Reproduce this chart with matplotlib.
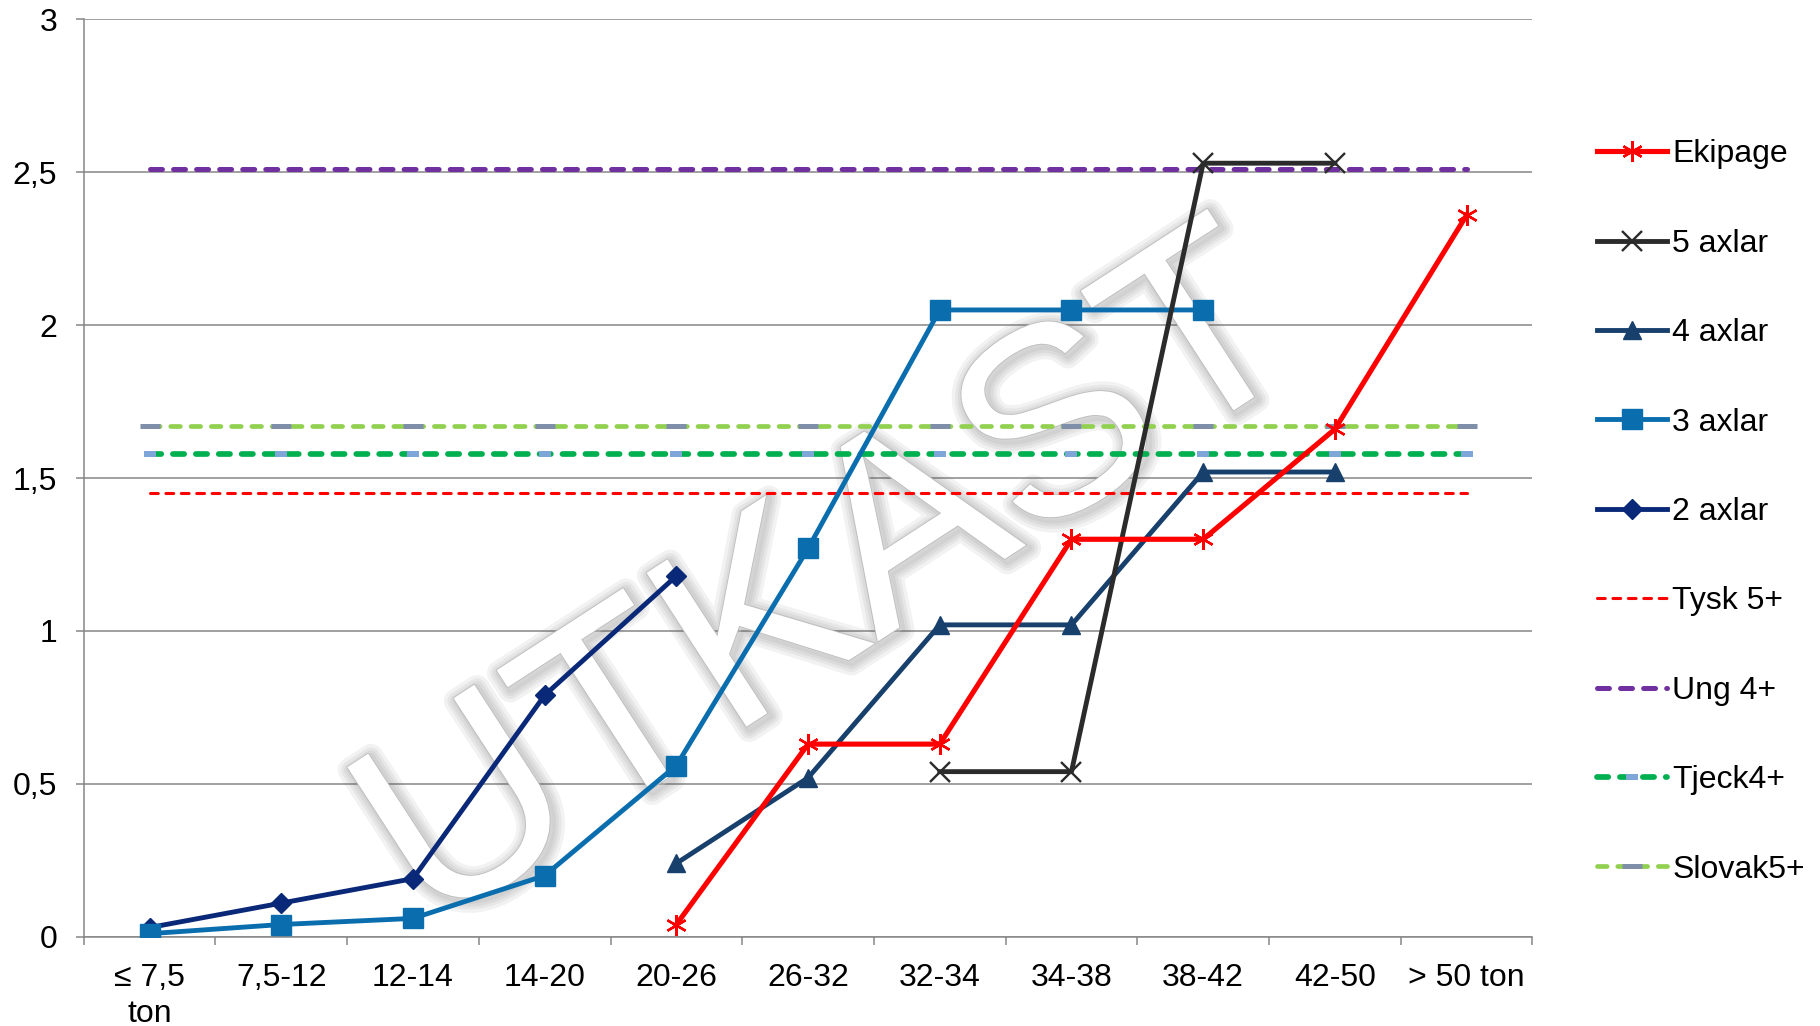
import numpy as np
import matplotlib
matplotlib.use("Agg")
import matplotlib.pyplot as plt
import matplotlib.patheffects as pe

plt.rcParams['font.family'] = ['Liberation Sans', 'DejaVu Sans']
plt.rcParams['lines.scale_dashes'] = False

categories = ["\u2264 7,5\nton", "7,5-12", "12-14", "14-20", "20-26", "26-32",
              "32-34", "34-38", "38-42", "42-50", "> 50 ton"]
nan = np.nan
ekipage = [nan, nan, nan, nan, 0.04, 0.63, 0.63, 1.30, 1.30, 1.66, 2.36]
axlar5 = [nan, nan, nan, nan, nan, nan, 0.54, 0.54, 2.53, 2.53, nan]
axlar4 = [nan, nan, nan, nan, 0.24, 0.52, 1.02, 1.02, 1.52, 1.52, nan]
axlar3 = [0.01, 0.04, 0.06, 0.20, 0.56, 1.27, 2.05, 2.05, 2.05, nan, nan]
axlar2 = [0.03, 0.11, 0.19, 0.79, 1.18, nan, nan, nan, nan, nan, nan]
tysk5 = [1.45] * 11
ung4 = [2.51] * 11
tjeck4 = [1.58] * 11
slovak5 = [1.67] * 11
yticks = [0, 0.5, 1, 1.5, 2, 2.5, 3]
ytick_labels = ["0", "0,5", "1", "1,5", "2", "2,5", "3"]

grey = '#868686'
fs = 23
fig = plt.figure(figsize=(18.2, 10.26), dpi=100)
ax = fig.add_axes([0.046, 0.087, 0.796, 0.894])
x = np.arange(len(categories))

ax.plot(x, tysk5, color='#FF0000', lw=2.2, dashes=(5.6, 5.5), dash_capstyle='round',
        label='Tysk 5+', zorder=3)
ax.plot(x, ung4, color='#7030A0', lw=3.6, dashes=(8.6, 8.0), dash_capstyle='round',
        label='Ung 4+', zorder=3)
ax.plot(x, tjeck4, color='#00B050', lw=4.1, dashes=(8.1, 8.4), dash_capstyle='round',
        marker='_', ms=8.6, mew=4.3, mec='#7EA6D8', label='Tjeck4+', zorder=3)
ax.plot(x, slovak5, color='#92D050', lw=3.4, dashes=(6.9, 7.7), dash_capstyle='round',
        marker='_', ms=14.4, mew=3.6, mec='#7F8FA9', label='Slovak5+', zorder=3)

ax.plot(x, axlar2, color='#0A2878', lw=3.5, marker='D', ms=10, label='2 axlar', zorder=4)
ax.plot(x, axlar3, color='#0A6EAE', lw=3.5, marker='s', ms=14.5, label='3 axlar', zorder=4)
ax.plot(x, axlar4, color='#17406D', lw=3.5, marker='^', ms=13.5, label='4 axlar', zorder=4)
ax.plot(x, axlar5, color='#2B2B2B', lw=3.5, marker='x', ms=15, mew=1.7, label='5 axlar', zorder=4)
ax.plot(x, ekipage, color='#FF0000', lw=3.7, marker=(6, 2, 0), ms=15, mew=1.7,
        label='Ekipage', zorder=5)

ax.set_xlim(-0.5, len(categories) - 0.5)
ax.set_ylim(0, 3)
ax.set_yticks(yticks)
ax.set_yticklabels(ytick_labels)
ax.set_xticks(x)
ax.set_xticklabels(categories, linespacing=1.25)
ax.set_xticks(np.arange(-0.5, len(categories)), minor=True)
ax.tick_params(axis='x', which='major', length=0, pad=19, labelsize=fs)
ax.tick_params(axis='x', which='minor', length=6, width=1.1, color=grey)
ax.tick_params(axis='y', length=6, width=1.1, color=grey, pad=13, labelsize=fs)
ax.yaxis.grid(True, color=grey, lw=1.1, zorder=0)
ax.set_axisbelow(True)
for s in ['top', 'right']:
    ax.spines[s].set_visible(False)
for s in ['left', 'bottom']:
    ax.spines[s].set_color(grey)
    ax.spines[s].set_linewidth(1.1)

# watermark
shadow = [pe.withStroke(offset=(2, -2), linewidth=w, foreground='#606060', alpha=0.08)
          for w in (18, 13, 9, 5)]
ax.text(0.458, 0.427, "UTKAST", transform=fig.transFigure, fontsize=192,
        rotation=33, ha='center', va='center', color='white', zorder=2,
        path_effects=shadow + [pe.Stroke(linewidth=1.2, foreground='#bcbcbc'), pe.Normal()])

handles, labels = ax.get_legend_handles_labels()
order = ['Ekipage', '5 axlar', '4 axlar', '3 axlar', '2 axlar', 'Tysk 5+', 'Ung 4+',
         'Tjeck4+', 'Slovak5+']
hmap = dict(zip(labels, handles))
fig.legend([hmap[k] for k in order], order, loc='center left',
           bbox_to_anchor=(0.8775, 0.501), frameon=False, fontsize=fs,
           labelspacing=1.86, handlelength=2.2, handletextpad=0.15, numpoints=1,
           borderaxespad=0, borderpad=0)

fig.savefig("out.png", dpi=100)
